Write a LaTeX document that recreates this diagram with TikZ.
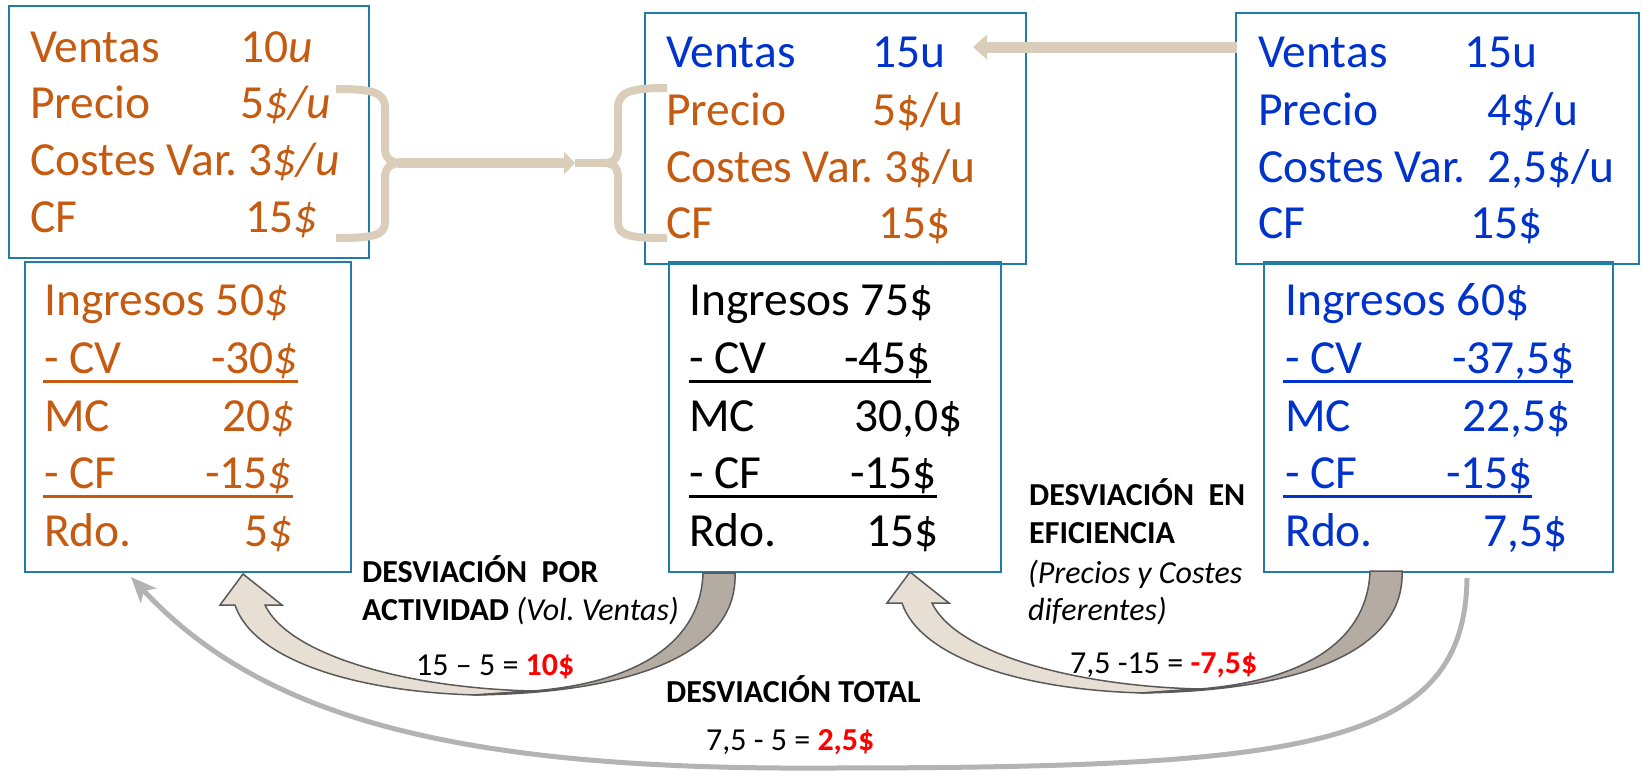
\documentclass[tikz,border=0pt]{standalone}
\usepackage{fontspec}
\setmainfont{Carlito}
\usetikzlibrary{arrows.meta}
\definecolor{orng}{HTML}{C55A11}
\definecolor{blu}{HTML}{0033CC}
\definecolor{boxc}{HTML}{217DA5}
\definecolor{beige}{HTML}{DACEBB}
\definecolor{lightfill}{HTML}{E7DFD3}
\definecolor{darkfill}{HTML}{B4ACA2}
\definecolor{edgec}{HTML}{595959}
\definecolor{grayl}{HTML}{B3B3B3}
\definecolor{redv}{HTML}{FF0000}
\frenchspacing
\begin{document}
\begin{tikzpicture}[x=1pt,y=-1pt,
  box/.style={draw=boxc, line width=2pt, inner sep=0pt, outer sep=0pt},
  big/.style={anchor=base west, inner sep=0pt, font=\fontsize{47.5}{56}\selectfont},
  lbl/.style={anchor=base west, inner sep=0pt, font=\fontsize{32}{38}\selectfont},
  uline/.style={line width=3pt},
  brace/.style={draw=beige, line width=8pt},
  curvarrow/.pic={
    \filldraw[fill=lightfill, draw=edgec, line width=1.5pt, line join=miter]
      (0,0) -- (39,31) -- (22,31) .. controls (45,80) and (160,114) .. (290,117)
      -- (234,121) .. controls (110,118) and (10,85) .. (-8,31) -- (-23,31) -- cycle;
    \filldraw[fill=darkfill, draw=edgec, line width=1.5pt]
      (460,-1) .. controls (458,65) and (400,108) .. (290,117)
      -- (230,121) .. controls (400,119) and (495,75) .. (492,-1) -- cycle;
  },
]
\useasboundingbox (0,0) rectangle (1642,771);

% boxes
\node[box, minimum width=360pt, minimum height=252pt] (tl) at (189,132) {};
\node[box, minimum width=381pt, minimum height=251pt] (tm) at (835.5,138.5) {};
\node[box, minimum width=403pt, minimum height=251pt] (tr) at (1437.5,138.5) {};
\node[box, minimum width=326.5pt, minimum height=310pt] (bl) at (187.75,417) {};
\node[box, minimum width=332pt, minimum height=310pt] (bm) at (835,417) {};
\node[box, minimum width=349pt, minimum height=310pt] (br) at (1438.5,417) {};

% top-left texts
\node[big, text=orng] (tl1) at (30,62) {Ventas};
\node[big, text=orng] (tl1v) at (240,62) {10\textit{u}};
\node[big, text=orng] (tl2) at (30,118) {Precio};
\node[big, text=orng] (tl2v) at (240,118) {5\textit{\$/u}};
\node[big, text=orng] (tl3) at (30,175) {Costes Var. 3\textit{\$/u}};
\node[big, text=orng] (tl4) at (30,232) {CF};
\node[big, text=orng] (tl4v) at (245,232) {15\textit{\$}};

% top-middle texts
\node[big, text=blu] (tm1) at (666,67) {Ventas};
\node[big, text=blu] (tm1v) at (872,67) {15u};
\node[big, text=orng] (tm2) at (666,125) {Precio};
\node[big, text=orng] (tm2v) at (872,125) {5\$/u};
\node[big, text=orng] (tm3) at (666,182) {Costes Var. 3\$/u};
\node[big, text=orng] (tm4) at (666,238) {CF};
\node[big, text=orng] (tm4v) at (878,238) {15\$};

% top-right texts
\node[big, text=blu] (tr1) at (1258,67) {Ventas};
\node[big, text=blu] (tr1v) at (1464,67) {15u};
\node[big, text=blu] (tr2) at (1258,125) {Precio};
\node[big, text=blu] (tr2v) at (1487,125) {4\$/u};
\node[big, text=blu] (tr3) at (1258,182) {Costes Var.};
\node[big, text=blu] (tr3v) at (1487,182) {2,5\$/u};
\node[big, text=blu] (tr4) at (1258,238) {CF};
\node[big, text=blu] (tr4v) at (1470,238) {15\$};

% bottom-left texts
\node[big, text=orng] (bl1) at (44,315) {Ingresos 50\textit{\$}};
\node[big, text=orng] (bl2) at (44,373) {- CV};
\node[big, text=orng] (bl2v) at (211,373) {-30\textit{\$}};
\node[big, text=orng] (bl3) at (44,431) {MC};
\node[big, text=orng] (bl3v) at (222,431) {20\textit{\$}};
\node[big, text=orng] (bl4) at (44,488) {- CF};
\node[big, text=orng] (bl4v) at (205,488) {-15\textit{\$}};
\node[big, text=orng] (bl5) at (44,546) {Rdo.};
\node[big, text=orng] (bl5v) at (244,546) {5\textit{\$}};
\draw[uline, orng] (43,381) -- (298,381);
\draw[uline, orng] (43,496) -- (293,496);

% bottom-middle texts
\node[big] (bm1) at (689,315) {Ingresos 75\$};
\node[big] (bm2) at (689,373) {- CV};
\node[big] (bm2v) at (844,373) {-45\$};
\node[big] (bm3) at (689,431) {MC};
\node[big] (bm3v) at (854,431) {30,0\$};
\node[big] (bm4) at (689,488) {- CF};
\node[big] (bm4v) at (850,488) {-15\$};
\node[big] (bm5) at (689,546) {Rdo.};
\node[big] (bm5v) at (866,546) {15\$};
\draw[uline, black] (689,381) -- (931,381);
\draw[uline, black] (689,496) -- (937,496);

% bottom-right texts
\node[big, text=blu] (br1) at (1285,315) {Ingresos 60\$};
\node[big, text=blu] (br2) at (1285,373) {- CV};
\node[big, text=blu] (br2v) at (1452,373) {-37,5\$};
\node[big, text=blu] (br3) at (1285,431) {MC};
\node[big, text=blu] (br3v) at (1462,431) {22,5\$};
\node[big, text=blu] (br4) at (1285,488) {- CF};
\node[big, text=blu] (br4v) at (1446,488) {-15\$};
\node[big, text=blu] (br5) at (1285,546) {Rdo.};
\node[big, text=blu] (br5v) at (1483,546) {7,5\$};
\draw[uline, blu] (1283,381) -- (1573,381);
\draw[uline, blu] (1283,496) -- (1532,496);

% deviation labels
\node[lbl] (d1a) at (362,582) {\textbf{DESVIACIÓN\ \ POR}};
\node[lbl] (d1b) at (362,620) {\textbf{ACTIVIDAD} \textit{(Vol. Ventas)}};
\node[lbl] (d1c) at (416,675) {15 – 5 = \textbf{\color{redv}10\$}};
\node[lbl] (d2a) at (1029,505) {\textbf{DESVIACIÓN\ \ EN}};
\node[lbl] (d2b) at (1029,543) {\textbf{EFICIENCIA}};
\node[lbl] (d2c) at (1028,583) {\textit{(Precios y Costes}};
\node[lbl] (d2d) at (1028,620) {\textit{diferentes)}};
\node[lbl] (d2e) at (1070,673) {7,5 -15 = \textbf{\color{redv}-7,5\$}};
\node[lbl] (d3a) at (666,702) {\textbf{DESVIACIÓN TOTAL}};
\node[lbl] (d3b) at (706,750) {7,5 - 5 = \textbf{\color{redv}2,5\$}};

% braces and connecting arrow (top-left -> top-middle)
\draw[brace] (336,89) .. controls (372,89) and (385,92) .. (385,108) -- (385,148)
  .. controls (385,158) and (390,163) .. (402,163);
\draw[brace] (402,163) .. controls (390,163) and (385,168) .. (385,178) -- (385,222)
  .. controls (385,236) and (372,238) .. (336,238);
\coordinate (bt1) at (398,163);
\coordinate (bt2) at (575,163);
\coordinate (bt3) at (608,163);
\draw[beige, line width=10pt, -{Triangle[length=11pt,width=23pt,line width=0pt]}] (bt1) -- (bt2);
\draw[beige, line width=8pt] (bt2) -- (bt3);
\draw[brace] (667,88) .. controls (630,88) and (618,92) .. (618,108) -- (618,148)
  .. controls (618,158) and (614,163) .. (604,163);
\draw[brace] (604,163) .. controls (614,163) and (618,168) .. (618,178) -- (618,222)
  .. controls (618,236) and (630,238) .. (667,238);

% top arrow (top-right -> top-middle)
\coordinate (ta1) at (1237,47);
\coordinate (ta2) at (973,47);
\draw[beige, line width=11pt, -{Triangle[length=14pt,width=25pt,line width=0pt]}] (ta1) -- (ta2);

% curved block arrows
\pic at (243,574) {curvarrow};
\pic at (910,572) {curvarrow};

% total deviation arrow
\coordinate (gs) at (1467,578);
\coordinate (gb) at (820,768);
\coordinate (ge) at (131,577);
\draw[grayl, line width=5pt, -{Stealth[length=26pt,width=22pt,inset=7pt,line width=0pt]}]
  (gs) .. controls (1465,750) and (1300,768) .. (gb) .. controls (450,770) and (260,715) .. (ge);
\end{tikzpicture}
\end{document}
